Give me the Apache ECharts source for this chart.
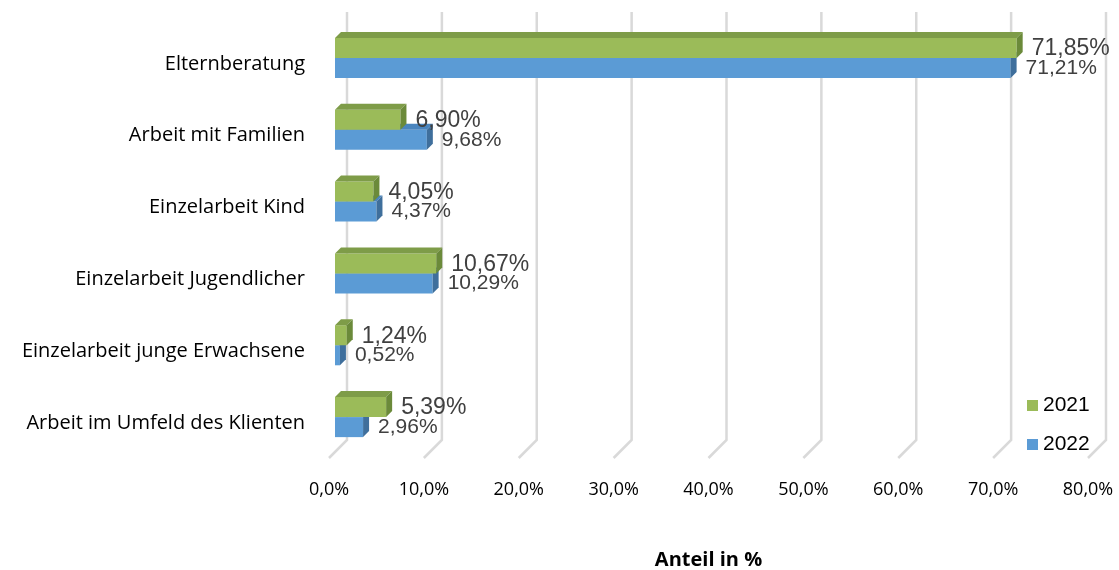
<!DOCTYPE html>
<html>
<head>
<meta charset="utf-8">
<script src="https://cdn.jsdelivr.net/npm/echarts@6/dist/echarts.min.js"></script>
<style>
  html, body { margin: 0; padding: 0; background: #ffffff; }
  #chart { width: 1119px; height: 570px; }
</style>
</head>
<body>
<div id="chart"></div>
<script>
// Beratungsformen – Anteil in %, Vergleich 2021 / 2022
const categories = [
  'Elternberatung',
  'Arbeit mit Familien',
  'Einzelarbeit Kind',
  'Einzelarbeit Jugendlicher',
  'Einzelarbeit junge Erwachsene',
  'Arbeit im Umfeld des Klienten'
];
const values2021 = [71.85, 6.90, 4.05, 10.67, 1.24, 5.39];
const values2022 = [71.21, 9.68, 4.37, 10.29, 0.52, 2.96];
const axisTicks = [0, 10, 20, 30, 40, 50, 60, 70, 80];

const FLOOR_DEPTH = 18;   // depth of the back wall behind the front plane
const BAR_SHIFT = 6;      // bars sit this far behind the front plane
const BAR_DEPTH = 6;      // thickness of each bar in depth

const pct = v => v.toFixed(2).replace('.', ',') + '%';

// gridlines: vertical on the back wall, then slanting down to the front floor
function renderGridLine(params, api) {
  const cs = params.coordSys;
  const x = api.coord([api.value(0), 0])[0];
  const bottom = cs.y + cs.height;
  return {
    type: 'polyline',
    shape: {
      points: [
        [x + FLOOR_DEPTH, cs.y - FLOOR_DEPTH + 2],
        [x + FLOOR_DEPTH, bottom - FLOOR_DEPTH - 1],
        [x, bottom - 1]
      ]
    },
    style: { stroke: '#d9d9d9', lineWidth: 2.5, fill: null },
    silent: true
  };
}

// 3D bar: front face, top face, side face and a value label
function makeBarRenderer(upper, colors, fontSize) {
  return function (params, api) {
    const v = api.value(0);
    const cat = api.value(1);
    const p0 = api.coord([0, cat]);
    const p1 = api.coord([v, cat]);
    const band = api.size([0, 1])[1];
    const h = band * 0.279;
    const x0 = p0[0] + BAR_SHIFT;
    const x1 = p1[0] + BAR_SHIFT;
    const yMid = p0[1] - BAR_SHIFT;
    const y0 = upper ? yMid - h : yMid;
    const y1 = y0 + h;
    const d = BAR_DEPTH;
    return {
      type: 'group',
      children: [
        {
          type: 'rect',
          shape: { x: x0, y: y0, width: x1 - x0, height: h },
          style: { fill: colors.front }
        },
        {
          type: 'polygon',
          shape: { points: [[x0, y0], [x1, y0], [x1 + d, y0 - d], [x0 + d, y0 - d]] },
          style: { fill: colors.top }
        },
        {
          type: 'polygon',
          shape: { points: [[x1, y0], [x1 + d, y0 - d], [x1 + d, y1 - d], [x1, y1]] },
          style: { fill: colors.side }
        },
        {
          type: 'text',
          style: {
            text: pct(v),
            x: x1 + d + 9,
            y: (y0 + y1) / 2 + (upper ? 1 : 0),
            fill: '#404040',
            font: fontSize + 'px "Liberation Sans", Arial, sans-serif',
            verticalAlign: 'middle',
            align: 'left'
          }
        }
      ]
    };
  };
}

const green = { front: '#9BBB59', top: '#7E9C48', side: '#6B8A3A' };
const blue = { front: '#5B9BD5', top: '#4A85BE', side: '#3F6F9C' };

const chart = echarts.init(document.getElementById('chart'), null, { renderer: 'canvas' });

chart.setOption({
  animation: false,
  backgroundColor: '#ffffff',
  grid: {
    left: 329, right: 31, top: 28, bottom: 111,
    containLabel: false,
    outerBoundsMode: 'none'
  },
  legend: {
    data: ['2021', '2022'],
    orient: 'vertical',
    left: 1022,
    top: 390,
    icon: 'rect',
    itemWidth: 11,
    itemHeight: 11,
    itemGap: 18,
    textStyle: { fontFamily: '"Liberation Sans", Arial, sans-serif', fontSize: 21, color: '#000000' }
  },
  xAxis: {
    type: 'value',
    min: 0,
    max: 80,
    interval: 10,
    axisLine: { show: false },
    axisTick: { show: false },
    splitLine: { show: false },
    axisLabel: {
      margin: 22,
      fontFamily: '"Open Sans", sans-serif',
      fontSize: 18,
      color: '#000000',
      formatter: v => v.toFixed(1).replace('.', ',') + '%'
    },
    name: 'Anteil in %',
    nameLocation: 'middle',
    nameGap: 91,
    nameTextStyle: { fontFamily: '"Open Sans", sans-serif', fontSize: 20, fontWeight: 'bold', color: '#000000' }
  },
  yAxis: {
    type: 'category',
    data: categories,
    inverse: true,
    axisLine: { show: false },
    axisTick: { show: false },
    splitLine: { show: false },
    axisLabel: {
      margin: 24,
      fontFamily: '"Open Sans", sans-serif',
      fontSize: 20,
      color: '#000000'
    }
  },
  series: [
    {
      type: 'custom',
      name: 'grid',
      z: 1,
      silent: true,
      renderItem: renderGridLine,
      encode: { x: 0 },
      data: axisTicks.map(t => [t, 0])
    },
    {
      type: 'custom',
      name: '2022',
      z: 2,
      itemStyle: { color: blue.front },
      renderItem: makeBarRenderer(false, blue, 21),
      encode: { x: 0, y: 1 },
      data: values2022.map((v, i) => [v, i])
    },
    {
      type: 'custom',
      name: '2021',
      z: 3,
      itemStyle: { color: green.front },
      renderItem: makeBarRenderer(true, green, 23),
      encode: { x: 0, y: 1 },
      data: values2021.map((v, i) => [v, i])
    }
  ]
});
</script>
</body>
</html>
